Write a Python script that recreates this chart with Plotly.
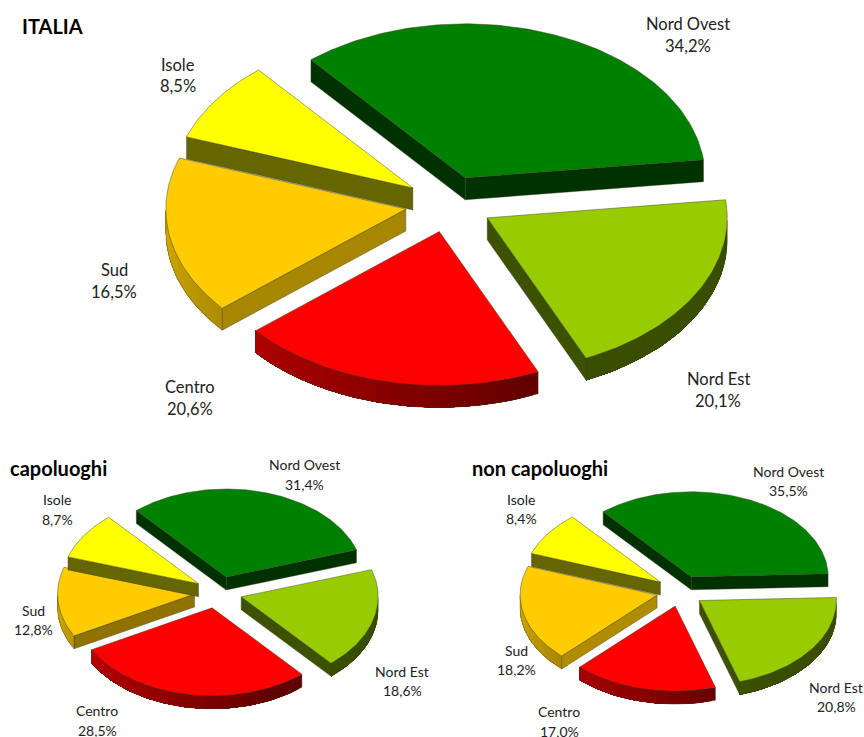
import math
import plotly.graph_objects as go

# ---- data ----
areas = ["Nord Ovest", "Nord Est", "Centro", "Sud", "Isole"]
italia = [34.2, 20.1, 20.6, 16.5, 8.5]
capoluoghi = [31.4, 18.6, 28.5, 12.8, 8.7]
non_capoluoghi = [35.5, 20.8, 17.0, 18.2, 8.4]

# ---- styles ----
top_colors = [(0, 128, 0), (153, 204, 0), (255, 0, 0), (255, 204, 0), (255, 255, 0)]
FONT = "Lato, Carlito, 'Open Sans', sans-serif"
TEXT = "#222222"
EDGE = "rgba(60,60,30,0.65)"
DRAW_ORDER = [0, 3, 4, 1, 2]
RADIAL_SHADE = [0.38, 0.40, 0.40, None, 0.40]

# ---- layout of each pie: centre, radii, depth, start angle, explosion, label centres ----
charts = [
    dict(values=italia, cx=449, cy=204, rx=240, ry=154, depth=22, start=130, sud_shade=0.66,
         font=16.5, gap=21.5, nudge={}, title="ITALIA", title_x=20, title_y=26, title_size=20,
         labels=[(688, 35), (718, 390), (190, 398), (114, 281), (178, 75.5)]),
    dict(values=capoluoghi, cx=219.5, cy=592.5, rx=137, ry=88, depth=13, start=131, sud_shade=0.56,
         font=14, gap=19.5, nudge={1: (-2.5, 0), 2: (-3, -0.5)},
         title="capoluoghi", title_x=8, title_y=468, title_size=20,
         labels=[(304, 474.5), (402, 681), (97, 720.5), (33, 620), (57, 509.5)]),
    dict(values=non_capoluoghi, cx=681, cy=591, rx=137, ry=85, depth=13, start=130, sud_shade=0.69,
         font=14, gap=19.5, nudge={1: (-2, 0.5), 3: (0.5, 0.5)},
         title="non capoluoghi", title_x=470, title_y=468, title_size=20,
         labels=[(788.5, 481), (836, 697), (559, 721.5), (516, 660), (521, 509)]),
]
EXPLODE = 0.183


def shade(rgb, f):
    return "rgb(%d,%d,%d)" % tuple(round(c * f) for c in rgb)


def rim_factor(theta):
    """Lighter toward the left of the rim, darker toward the right."""
    t = (theta + 180) / 115
    t = max(0.0, min(1.0, t))
    return 0.85 + (0.38 - 0.85) * t


fig = go.Figure()


def poly(xs, ys, fill, line=None, width=0.7):
    fig.add_trace(go.Scatter(
        x=xs, y=ys, mode="lines", fill="toself", fillcolor=fill,
        line=dict(color=line or fill, width=width),
        hoverinfo="skip", showlegend=False,
    ))


def stroke(xs, ys, width=0.6):
    fig.add_trace(go.Scatter(
        x=xs, y=ys, mode="lines", line=dict(color=EDGE, width=width),
        hoverinfo="skip", showlegend=False,
    ))


for ch in charts:
    total = sum(ch["values"])
    angle = ch["start"]
    spans = []
    for v in ch["values"]:
        sweep = v / total * 360
        spans.append((angle, angle - sweep))
        angle -= sweep

    for i in DRAW_ORDER:
        a0, a1 = spans[i]
        mid = math.radians((a0 + a1) / 2)
        nx, ny = ch["nudge"].get(i, (0, 0))
        tx = ch["cx"] + EXPLODE * ch["rx"] * math.cos(mid) + nx
        ty = ch["cy"] - EXPLODE * ch["ry"] * math.sin(mid) + ny
        d = ch["depth"]
        rgb = top_colors[i]

        def pt(th):
            r = math.radians(th)
            return tx + ch["rx"] * math.cos(r), ty - ch["ry"] * math.sin(r)

        radial = RADIAL_SHADE[i] if RADIAL_SHADE[i] is not None else ch["sud_shade"]
        # radial side walls, only those that face the viewer
        for th, normal in ((a0, a0 + 90), (a1, a1 - 90)):
            if math.sin(math.radians(normal)) < 0:
                px, py = pt(th)
                poly([tx, px, px, tx, tx], [ty, py, py + d, ty + d, ty],
                     shade(rgb, radial), EDGE, 0.6)

        # outer rim, visible on the lower half of the ellipse
        n = max(2, int(abs(a0 - a1) / 1.5))
        arc = [a0 + (a1 - a0) * k / n for k in range(n + 1)]
        vis = [th for th in arc if math.sin(math.radians(th)) < 0.001]
        if len(vis) >= 2:
            # paint nested bands from each angle to the rim's far end: no seams
            for k in range(len(vis) - 1):
                part = vis[k:]
                top = [pt(th) for th in part]
                xs = [p[0] for p in top] + [p[0] for p in reversed(top)]
                ys = [p[1] for p in top] + [p[1] + d for p in reversed(top)]
                tm = ((part[0] + 180) % 360) - 180
                fig.add_trace(go.Scatter(
                    x=xs + xs[:1], y=ys + ys[:1], mode="lines", fill="toself",
                    fillcolor=shade(rgb, rim_factor(tm)), line=dict(width=0),
                    hoverinfo="skip", showlegend=False,
                ))
            top = [pt(th) for th in vis]
            stroke([p[0] for p in top], [p[1] + d for p in top])
            stroke([top[0][0]] * 2, [top[0][1], top[0][1] + d])
            stroke([top[-1][0]] * 2, [top[-1][1], top[-1][1] + d])

        # top face
        n = max(8, int(abs(a0 - a1)))
        xs, ys = [tx], [ty]
        for k in range(n + 1):
            px, py = pt(a0 + (a1 - a0) * k / n)
            xs.append(px)
            ys.append(py)
        xs.append(tx)
        ys.append(ty)
        poly(xs, ys, shade(rgb, 1), EDGE, 0.7)

    for name, v, (lx, ly) in zip(areas, ch["values"], ch["labels"]):
        txt = f"{v:.1f}".replace(".", ",") + "%"
        for line, yy in ((name, ly - ch["gap"] / 2), (txt, ly + ch["gap"] / 2)):
            fig.add_annotation(x=lx, y=yy, text=line, showarrow=False,
                               xanchor="center", yanchor="middle", align="center",
                               font=dict(family=FONT, size=ch["font"], color=TEXT))
    fig.add_annotation(x=ch["title_x"], y=ch["title_y"], text=f"<b>{ch['title']}</b>",
                       showarrow=False, xanchor="left", yanchor="middle",
                       font=dict(family=FONT, size=ch["title_size"], color="#000000"))

fig.update_layout(
    width=864, height=737, margin=dict(l=0, r=0, t=0, b=0),
    paper_bgcolor="white", plot_bgcolor="white", showlegend=False,
    xaxis=dict(range=[0, 864], visible=False, fixedrange=True),
    yaxis=dict(range=[737, 0], visible=False, fixedrange=True),
)
fig.write_html("out.html", config={"displayModeBar": False},
               post_script="document.body.style.margin='0';document.body.style.overflow='hidden';")
